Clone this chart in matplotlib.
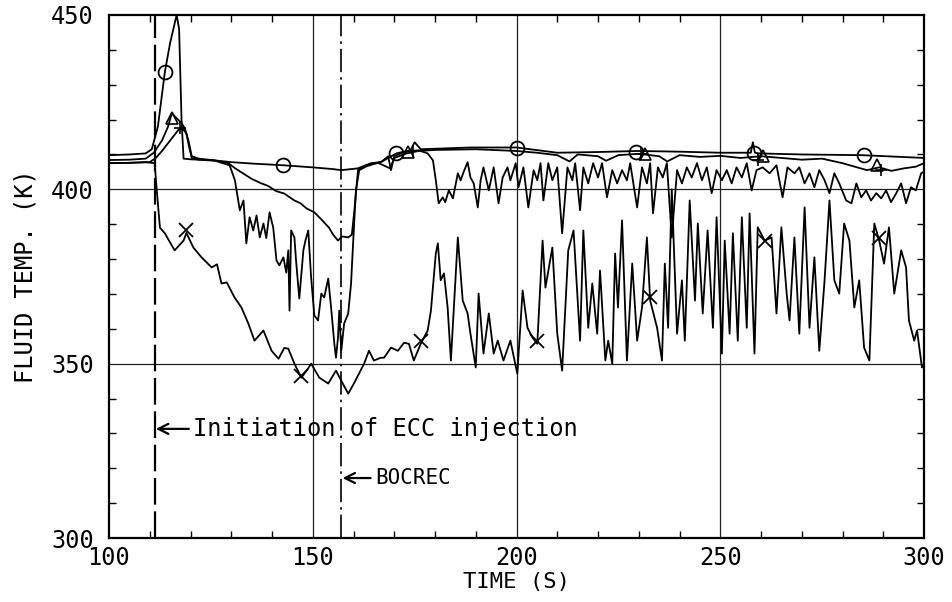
import matplotlib
matplotlib.use("Agg")
import matplotlib.pyplot as plt
from matplotlib.ticker import MultipleLocator

plt.rcParams['font.family'] = ['DejaVu Sans Mono']

# ---- Data ----
# Series with circle markers (top, smooth)
a_t = [100, 105, 109, 110.5, 112, 113.7, 115, 116.6, 117.2, 117.8, 118.3, 120, 125, 130, 135,
       142.8, 150, 155, 157, 161, 164.3, 166.7, 170.5, 174, 175, 176.5, 188.7, 200, 210, 220,
       229.6, 240, 250, 257.5, 258, 258.5, 259.6, 270, 284.8, 300]
a_T = [409.8, 410, 410.3, 411.5, 418, 433.6, 442, 450, 446, 420, 408.8, 408.6, 408.4, 407.8, 407.4,
       406.9, 406.3, 405.8, 405.5, 406, 407.5, 407.8, 410.3, 411.2, 413.5, 411.5, 412, 412, 410.5, 410.7,
       411, 410.8, 410.5, 410.5, 413.5, 410.5, 410.3, 410, 409.8, 409]

# Series with triangle markers
b_t = [100, 105, 109, 111, 113, 114.5, 115.4, 116.5, 117.8, 118.6, 119.5, 120.3, 122, 126, 129.3,
       131, 133, 135, 137.4, 139, 141, 143, 145.5, 147, 148.5, 150.4, 152, 154, 155, 156.2, 157.2,
       158.7, 159.6, 160.3, 161.1, 163, 166, 169, 170, 173, 176, 180, 190, 200, 205, 210, 213, 215,
       220, 222, 225, 230, 235, 237, 240, 245, 250, 255, 260, 265, 270, 275, 280, 283, 286, 289,
       292, 295, 298, 300]
b_T = [408.4, 408.5, 408.8, 410.5, 414, 418, 421.8, 420.5, 419, 417.5, 414, 409.5, 408.8, 408.3, 407.5,
       406, 404.5, 403, 401.7, 401, 399.5, 398.8, 396.8, 396, 394.5, 393.4, 391.5, 389, 387, 385.3, 386.5,
       386.2, 387, 395, 405.5, 406.8, 407.6, 406, 409, 410.3, 411, 411.3, 411.5, 411, 410.5, 409.8, 408, 410,
       409.5, 408.2, 409.8, 410.2, 409.5, 408, 409.8, 409.3, 409.6, 409, 409.5, 409, 408.5, 408.8, 407.5,
       406.5, 405.5, 406.3, 405.3, 406, 406.5, 407.5]

# Series with plus markers
c_t = [100, 105, 110, 111.5, 113, 115, 117, 118, 119, 119.5, 120.3, 122, 126, 129.6, 130.9, 132.1,
       133, 133.7, 134.5, 135.4, 136.2, 137, 137.9, 138.6, 139.4, 140.3, 141.1, 141.8, 142.8, 143.5,
       144, 144.3, 144.7, 145.5, 145.9, 146.7, 147.7, 148.2, 148.9, 149.6, 150.4, 151.3, 152.1, 152.8,
       153.8, 154.5, 155.3, 155.7, 156.2, 156.5, 157, 157.7, 158.7, 159.4, 159.9, 160.6, 161.4, 163,
       165, 167, 168.5, 169.2, 170, 172, 174, 176, 178.2, 179.5, 180.2, 180.9, 181.9, 182.5, 183.4,
       184.4, 185.6, 186.3, 187, 188, 188.7, 189.5, 190.5, 191.2, 191.9, 193.2, 194.4, 195.6, 196.6,
       197.8, 198.5, 199.8, 200.5, 201.7, 202.9, 204.2, 205.1, 205.9, 206.6, 207.8, 208.8, 210, 211.2,
       212.5, 213.7, 214.4, 215.6, 216.4, 217.6, 218.8, 220, 221, 222.2, 223.5, 224.7, 225.9, 227.1,
       227.9, 229.6, 230.8, 232, 232.8, 233.5, 234.7, 235.9, 236.9, 238.1, 239.4, 240.6, 241.8, 243,
       244.3, 245.5, 246.7, 247.9, 249.1, 250.4, 251.6, 252.8, 254, 255.3, 256.5, 257.7, 258.9, 260.4,
       262.1, 263.8, 265.3, 266.5, 268.2, 269.4, 270.7, 271.9, 273.1, 274.3, 275.6, 276.8, 278, 279.2,
       280.9, 282.2, 283.4, 284.6, 285.8, 287, 288.3, 289.5, 290.7, 291.9, 293.2, 294.4, 295.6, 296.8,
       298, 299.3, 300]
c_T = [407.5, 407.6, 407.8, 409, 411, 414, 417, 417.5, 416, 413, 409, 408.5, 408.2, 406.9, 402.6, 394,
       396.8, 384.5, 392, 388.2, 392.5, 386.2, 390.2, 386, 393.4, 389, 379.6, 378.2, 380.5, 376.1,
       382.5, 365.2, 388.2, 386.2, 379.6, 368.7, 382.5, 385.3, 388.2, 374.7, 363.8, 362.4, 370.1, 369,
       374.4, 366.1, 355.7, 351.7, 357.5, 365.2, 353.7, 361.5, 364.4, 373, 384.5, 399.7, 405.5, 406.5,
       407.3, 408, 409.5, 405.5, 409.5, 410.5, 411, 411.2, 410.3, 408.3, 402.6, 396, 397.7, 396.3, 399.7,
       397.4, 404.6, 402.6, 404.9, 407.8, 403.4, 401.7, 394.8, 402.6, 406.3, 399.7, 406.3, 396, 403.4,
       406.3, 402.6, 407.5, 400.6, 406.3, 394.8, 405.5, 402.6, 407.5, 396.8, 407.5, 402.6, 406.3, 387.4,
       406.3, 402.6, 407.5, 394, 406.3, 401.7, 407.5, 403.4, 407.5, 397.7, 405.5, 401.7, 405.5, 402.6,
       407.5, 394.8, 406.3, 401.7, 407.5, 393.1, 406.3, 403.4, 407.5, 386.2, 405.5, 401.7, 406.3, 403.4,
       407.5, 402.6, 406.3, 398.9, 405.5, 402.6, 405.5, 401.7, 406.3, 403.4, 407.5, 399.7, 405.5, 406.3,
       404.6, 406.9, 397.7, 406.3, 404.6, 406.3, 401.7, 404.6, 400.6, 405.5, 402.6, 398.9, 404.6, 401.7,
       396.8, 396, 401.7, 397.7, 399.7, 396.8, 398.9, 397.4, 399.7, 396.3, 398.9, 401.7, 396, 400.6,
       399.7, 404.6, 405]

# Series with x markers (bottom, strongly oscillating)
d_t = [100, 105, 109, 111.2, 111.7, 112.5, 113.7, 116.1, 118.3, 119, 120.7, 122.7, 125.2, 126.5,
       127.6, 128.9, 130.8, 132.5, 134.2, 135.7, 137.9, 139.9, 141.6, 143, 144, 145.5, 147.2, 148.5,
       149.6, 151.6, 153.8, 155.7, 157, 158.7, 160.1, 162.6, 163.8, 165, 166.7, 167.5, 169.2, 170.9,
       172.4, 173.6, 174.8, 176.5, 178.2, 179, 180.2, 180.7, 181.4, 182.2, 183.1, 183.9, 185.6, 186.8,
       188, 188.7, 190, 190.7, 191.9, 193.2, 194.4, 195.4, 196.8, 198.5, 200.2, 201.5, 202.7, 203.9,
       205.1, 206.4, 207.1, 208.8, 210, 211.2, 212.7, 214, 215.6, 216.4, 217.6, 218.6, 219.8, 220.5,
       221.8, 222.5, 223.5, 224.2, 224.9, 225.9, 227.1, 228.4, 229.6, 230.8, 232, 232.8, 234.5, 235.7,
       236.4, 237.2, 238.1, 239.4, 240.6, 241.3, 242.5, 243.8, 244.5, 245.7, 246.9, 248.2, 249.1, 250.4,
       251.1, 252.3, 253.1, 254.3, 255.3, 256.5, 257.2, 258.4, 259.2, 260.9, 262.6, 263.8, 265, 266.3,
       267, 268.2, 269.4, 270.7, 271.9, 273.1, 274.3, 275.6, 276.8, 278, 279.2, 280.4, 281.7, 282.9,
       284.1, 285.3, 286.6, 287.8, 289, 290.2, 291.4, 292.7, 294.4, 295.6, 296.3, 297.6, 298.3, 299.5, 300]
d_T = [407.5, 407.6, 407.8, 407.5, 400, 389, 387.4, 382.5, 385.3, 387.5, 383.3, 380.5, 377.6, 378.5,
       373, 373.3, 369, 366.1, 361.5, 356.6, 359.5, 353.7, 351.4, 354.5, 354.3, 350, 346, 348,
       350, 346, 344.3, 348, 345.1, 341.4, 344.3, 350, 353.7, 350.9, 351.7, 351.7, 354.6, 353.7,
       356, 355.7, 350.9, 355.7, 359.5, 365.2, 381.6, 384.5, 373.9, 375.9, 366.1, 350.9, 386.2, 368.1,
       364.4, 358.6, 348.9, 370.1, 352.9, 364.4, 352.9, 356.6, 350.9, 356.6, 347.1, 371, 360.3, 357.5,
       355.7, 385.3, 371.8, 383.3, 358.6, 348, 382.5, 388.2, 356.6, 388.2, 360.3, 373, 358.6, 376.7,
       350.9, 356.6, 350, 381.6, 366.1, 391.1, 350.9, 378.7, 356.6, 366.1, 386.2, 368.1, 360.3, 350.9,
       378.7, 360.3, 400, 358.6, 373.9, 356.6, 396.8, 368.1, 390.2, 364.4, 388.2, 360.3, 392, 352.9,
       385.3, 358.6, 387.4, 356.6, 392, 360.3, 393.1, 352.9, 389.1, 385.3, 386.2, 364.4, 389.1, 370.1,
       362.4, 386.2, 358.6, 394.8, 360.3, 380.5, 353.7, 373.9, 396.8, 373.9, 370.1, 390.2, 385.3, 366.1,
       373.9, 354.6, 350.9, 390.2, 385.3, 378.7, 389.1, 370.1, 382.5, 377.6, 362.4, 356.6, 359.5, 348.9, 350]

# Marker positions
circ_t = [113.7, 142.8, 170.5, 200, 229.3, 258.3, 285.3]
circ_T = [433.6, 406.9, 410.5, 411.8, 410.8, 410.5, 409.8]
tri_t = [115.4, 173.3, 231.5, 260.5, 288.5]
tri_T = [420.5, 410.8, 410.2, 409.5, 407.0]
plus_t = [117.5, 174.5, 230.5, 259.2, 289.5]
plus_T = [417.5, 411.0, 410.0, 408.5, 405.5]
x_t = [119, 147.2, 176.5, 205.1, 232.8, 260.9, 289]
x_T = [388.2, 346.5, 356.5, 356.5, 369, 385.3, 386]

ecc_time = 111.3
bocrec_time = 157.0
x_ticks = [100, 150, 200, 250, 300]
y_ticks = [300, 350, 400, 450]

# ---- Figure ----
fig = plt.figure(figsize=(9.52, 6.02), dpi=100)
ax = fig.add_axes([109/952, 64/602, 815/952, 523/602])

ax.set_xlim(100, 300)
ax.set_ylim(300, 450)

# grid lines
for gx in [150, 200, 250]:
    ax.axvline(gx, color='#222222', lw=0.9, zorder=1)
for gy in [350, 400]:
    ax.axhline(gy, color='#222222', lw=0.9, zorder=1)

# event lines
ax.axvline(ecc_time, color='black', lw=1.6, linestyle=(0, (12, 3)), zorder=2)
ax.axvline(bocrec_time, color='black', lw=1.2, linestyle=(0, (14, 3, 1.5, 3)), zorder=2)

lw = 1.3
ax.plot(a_t, a_T, color='black', lw=lw, zorder=3)
ax.plot(b_t, b_T, color='black', lw=lw, zorder=3)
ax.plot(c_t, c_T, color='black', lw=lw, zorder=3)
ax.plot(d_t, d_T, color='black', lw=lw, zorder=3)

ax.plot(circ_t, circ_T, linestyle='none', marker='o', ms=10, mfc='none', mec='black', mew=1.3, zorder=4)
ax.plot(tri_t, tri_T, linestyle='none', marker='^', ms=8, mfc='none', mec='black', mew=1.2, zorder=4)
ax.plot(plus_t, plus_T, linestyle='none', marker='+', ms=9, mec='black', mew=1.2, zorder=4)
ax.plot(x_t, x_T, linestyle='none', marker='x', ms=10, mec='black', mew=1.3, zorder=4)

# annotations
fs = 17
ax.annotate('', xy=(ecc_time + 0.2, 331.3), xytext=(119.6, 331.3),
            arrowprops=dict(arrowstyle='->', lw=1.6, color='black', shrinkA=0, shrinkB=0,
                            mutation_scale=18))
ax.text(120.6, 331.3, 'Initiation of ECC injection', fontsize=fs, va='center', ha='left')
ax.annotate('', xy=(bocrec_time + 0.3, 317.2), xytext=(164.2, 317.2),
            arrowprops=dict(arrowstyle='->', lw=1.6, color='black', shrinkA=0, shrinkB=0,
                            mutation_scale=18))
ax.text(165.3, 317.2, 'BOCREC', fontsize=fs - 2, va='center', ha='left')

# axes styling
ax.set_xticks(x_ticks)
ax.set_yticks(y_ticks)
ax.xaxis.set_minor_locator(MultipleLocator(10))
ax.yaxis.set_minor_locator(MultipleLocator(10))
ax.tick_params(which='both', direction='in', top=True, right=True, color='black')
ax.tick_params(which='major', length=0, labelsize=fs)
ax.tick_params(axis='x', which='major', pad=6)
ax.tick_params(axis='y', which='major', pad=11)
ax.tick_params(which='minor', length=5, width=1.0)
for s in ax.spines.values():
    s.set_linewidth(1.6)
    s.set_color('black')

ax.set_xlabel('TIME (S)', fontsize=fs - 1, labelpad=1)
ax.set_ylabel('FLUID TEMP. (K)', fontsize=fs, labelpad=10)

fig.savefig('out.png', dpi=100, facecolor='white')
